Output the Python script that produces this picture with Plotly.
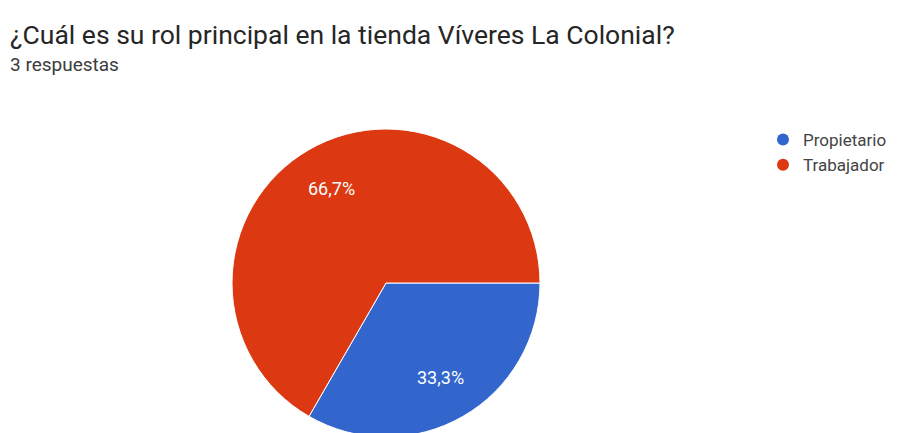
import math
import plotly.graph_objects as go

# Survey answers: role in the store
categories = ["Propietario", "Trabajador"]
responses = [1, 2]
colors = ["#3366CC", "#DC3912"]

title_text = "¿Cuál es su rol principal en la tienda Víveres La Colonial?"
subtitle_text = "3 respuestas"

W, H = 905, 440
FONT = "Roboto, Arial, sans-serif"

# Pie placement in pixels (the figure is taller than the window, so the bottom edge is clipped)
cx, cy, r = 386, 283, 154
start_angle = 90  # degrees clockwise from 12 o'clock

fig = go.Figure()

fig.add_trace(go.Pie(
    labels=categories,
    values=responses,
    marker=dict(colors=colors, line=dict(color="white", width=1)),
    sort=False,
    direction="clockwise",
    rotation=start_angle,
    textinfo="none",
    hoverinfo="label+percent",
    showlegend=False,
    domain=dict(x=[(cx - r) / W, (cx + r) / W], y=[1 - (cy + r) / H, 1 - (cy - r) / H]),
))

# Percentage labels placed at each slice's mid-angle
total = sum(responses)
annotations = []
cum = 0
for val in responses:
    frac = val / total
    mid = math.radians(start_angle + (cum + frac / 2) * 360)
    cum += frac
    px = cx + 0.71 * r * math.sin(mid)
    py = cy - 0.71 * r * math.cos(mid)
    annotations.append(dict(
        text=f"{frac * 100:.1f}%".replace(".", ","),
        x=px / W, y=1 - py / H, xref="paper", yref="paper",
        xanchor="center", yanchor="middle", showarrow=False,
        font=dict(family=FONT, size=18, color="white"),
    ))

# Circle legend entries, one per category
for name, col in zip(categories, colors):
    fig.add_trace(go.Scatter(
        x=[None], y=[None], mode="markers", name=name,
        marker=dict(color=col, size=12, symbol="circle"),
        legendgroup=name, showlegend=True,
    ))

annotations += [
    dict(text=title_text, x=0, y=1 - 34 / H, xref="paper", yref="paper",
         xanchor="left", yanchor="middle", xshift=8, showarrow=False,
         font=dict(family=FONT, size=26.5, color="#262626")),
    dict(text=subtitle_text, x=0, y=1 - 64 / H, xref="paper", yref="paper",
         xanchor="left", yanchor="middle", xshift=8, showarrow=False,
         font=dict(family=FONT, size=19, color="#3c3c3c")),
]

fig.update_layout(
    width=W, height=H,
    margin=dict(l=0, r=0, t=0, b=0),
    paper_bgcolor="white", plot_bgcolor="white",
    xaxis=dict(visible=False), yaxis=dict(visible=False),
    legend=dict(
        x=(783 - 20) / W, xanchor="left",
        y=1 - 122 / H, yanchor="top",
        font=dict(family=FONT, size=17, color="#444444"),
        tracegroupgap=0, bgcolor="rgba(0,0,0,0)",
    ),
    annotations=annotations,
)

fig.write_html(
    "out.html",
    post_script="document.documentElement.style.overflow='hidden';document.body.style.overflow='hidden';document.body.style.margin='0';",
)
